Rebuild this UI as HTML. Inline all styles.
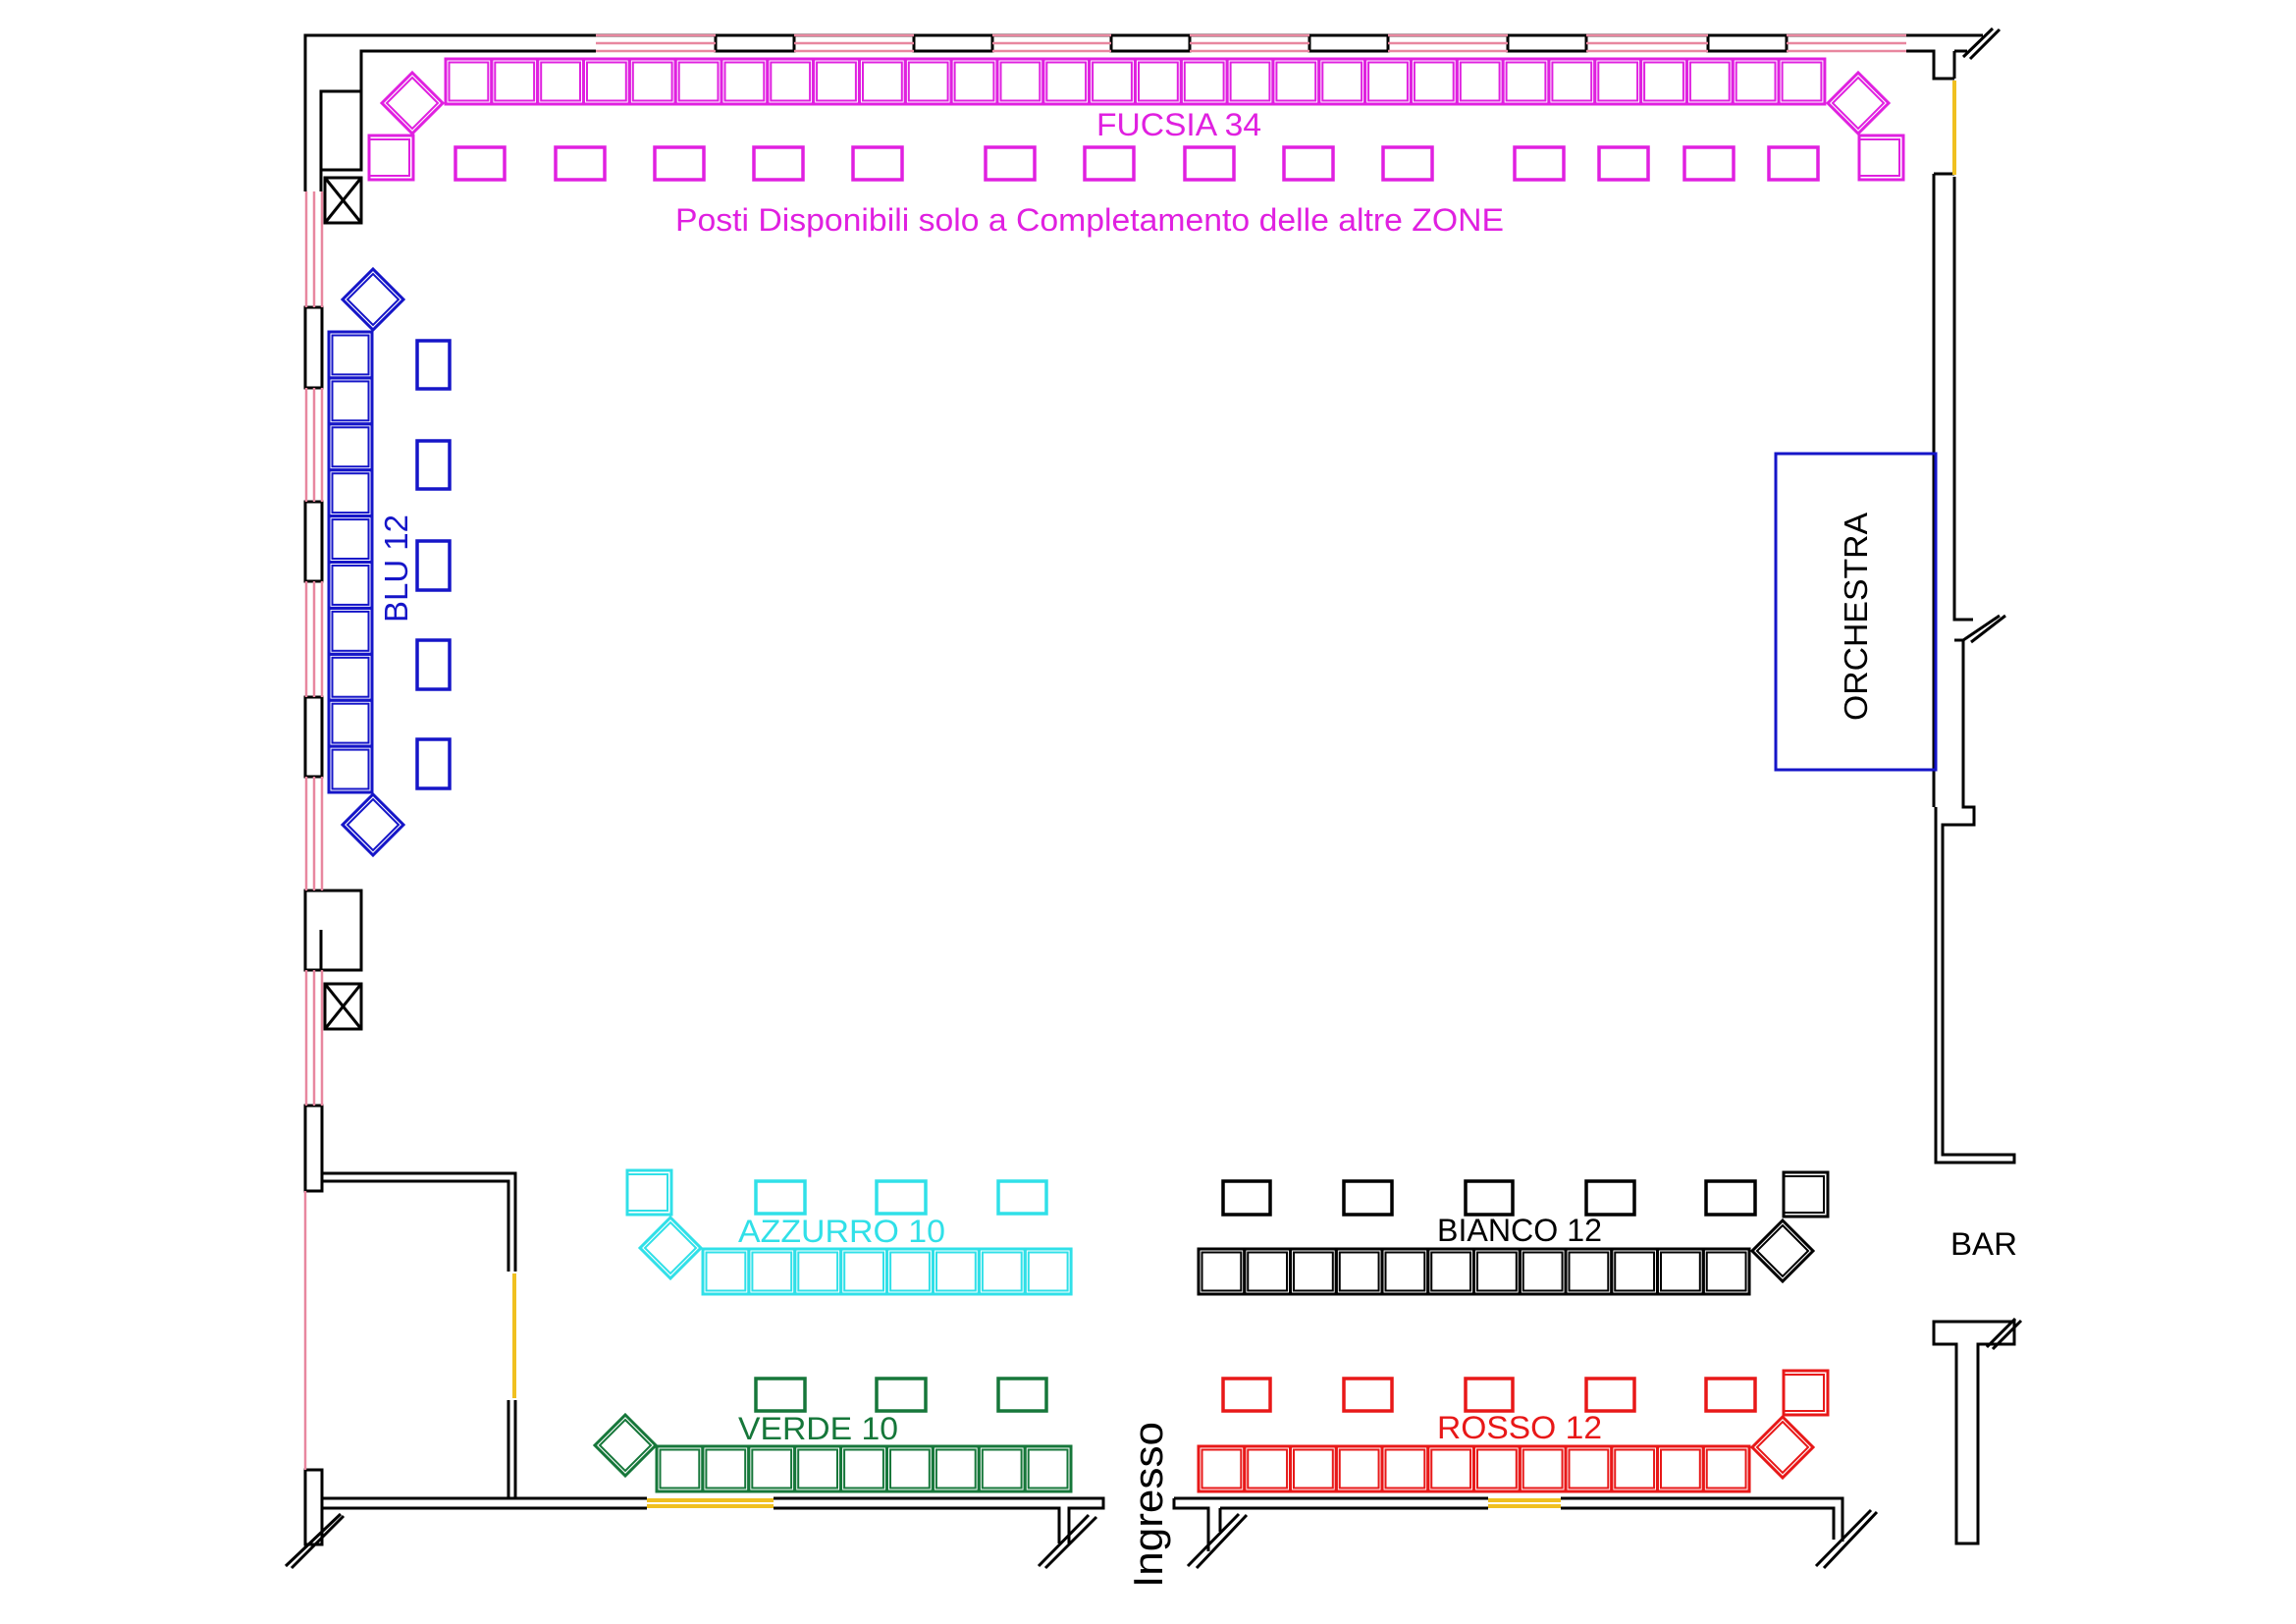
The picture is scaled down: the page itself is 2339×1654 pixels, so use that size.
<!DOCTYPE html>
<html><head><meta charset="utf-8"><style>
html,body{margin:0;padding:0;background:#fff;}
svg{display:block;}
text{font-family:"Liberation Sans",Arial,sans-serif;}
</style></head><body>
<svg width="2339" height="1654" viewBox="0 0 2339 1654" xmlns="http://www.w3.org/2000/svg">
<defs>
<g id="ch"><rect x="0" y="0" width="46.8" height="46" fill="none" stroke="currentColor" stroke-width="3"/><rect x="3.5" y="3.5" width="39.8" height="39" fill="none" stroke="currentColor" stroke-width="2"/></g>
<g id="chb"><rect x="0" y="0" width="44" height="46.9" fill="none" stroke="currentColor" stroke-width="3"/><rect x="3.5" y="3.5" width="37" height="39.9" fill="none" stroke="currentColor" stroke-width="2"/></g>
<g id="dm"><polygon points="0,-31 31,0 0,31 -31,0" fill="none" stroke="currentColor" stroke-width="3"/><polygon points="0,-26 26,0 0,26 -26,0" fill="none" stroke="currentColor" stroke-width="2"/></g>
<g id="cs"><rect x="0" y="0" width="45" height="45" fill="none" stroke="currentColor" stroke-width="3"/><rect x="0" y="4" width="41" height="37" fill="none" stroke="currentColor" stroke-width="2"/></g>
</defs>

<g fill="none" stroke="#000" stroke-width="3">
<path d="M311,195 V36 H2020"/>
<path d="M327,195 V173 M368,93 V52 H607"/>
<rect x="327" y="93" width="41" height="80"/>
<rect x="331" y="181" width="37" height="46"/>
<path d="M331,181 L368,227 M368,181 L331,227"/>
<rect x="729" y="36" width="80" height="16"/>
<rect x="931" y="36" width="80" height="16"/>
<rect x="1132" y="36" width="80" height="16"/>
<rect x="1334" y="36" width="80" height="16"/>
<rect x="1536" y="36" width="80" height="16"/>
<rect x="1740" y="36" width="80" height="16"/>
<path d="M1942,52 H1970 V80 H1991 M1991,52 H2004"/>
<path d="M2000,58 L2030,29 M2007,60 L2037,30"/>
<path d="M1970,177 H1991 M1970,177 V822 M1991,52 V80 M1991,180 V631 H2010 M1991,652 H2000 V822 H2011 V840 H1979 V1176 H2052 V1184 H1972 V822"/>
<path d="M2000,652 L2037,627 M2008,654 L2043,627"/>
<rect x="311" y="313" width="17" height="82"/>
<rect x="311" y="511" width="17" height="81"/>
<rect x="311" y="710" width="17" height="81"/>
<rect x="311" y="907" width="57" height="81"/>
<path d="M327,947 V988"/>
<rect x="331" y="1002" width="37" height="46"/>
<path d="M331,1002 L368,1048 M368,1002 L331,1048"/>
<rect x="311" y="1126" width="17" height="87"/>
<path d="M328,1195 H525 V1295 M328,1203 H518 V1295 M518,1426 V1526 M525,1426 V1526"/>
<rect x="311" y="1497" width="17" height="76"/>
<path d="M291,1595 L347,1542 M297,1597 L350,1544"/>
<path d="M328,1526 H659 M788,1526 H1124 V1536 H1089 V1572 M328,1536 H659 M788,1536 H1079 V1572"/>
<path d="M1058,1595 L1109,1543 M1065,1597 L1117,1545"/>
<path d="M1196,1526 H1516 M1590,1526 H1877 V1570 M1196,1526 V1536 H1231 V1580 M1243,1536 V1560 M1243,1536 H1516 M1590,1536 H1868 V1568"/>
<path d="M1210,1595 L1262,1542 M1219,1597 L1270,1543"/>
<path d="M1850,1595 L1906,1538 M1858,1597 L1912,1540"/>
<path d="M1970,1346 H2052 V1369 H2015 V1572 H1993 V1369 H1970 Z"/>
<path d="M2024,1372 L2053,1343 M2030,1374 L2059,1345"/>
</g>

<g stroke="#e8879f" stroke-width="2.5" fill="none">
<path d="M607,36 H729 M607,44 H729 M607,52 H729"/>
<path d="M809,36 H931 M809,44 H931 M809,52 H931"/>
<path d="M1011,36 H1132 M1011,44 H1132 M1011,52 H1132"/>
<path d="M1212,36 H1334 M1212,44 H1334 M1212,52 H1334"/>
<path d="M1414,36 H1536 M1414,44 H1536 M1414,52 H1536"/>
<path d="M1616,36 H1740 M1616,44 H1740 M1616,52 H1740"/>
<path d="M1820,36 H1942 M1820,44 H1942 M1820,52 H1942"/>
<path d="M312,195 V313 M320,195 V313 M328,195 V313"/>
<path d="M312,395 V511 M320,395 V511 M328,395 V511"/>
<path d="M312,592 V710 M320,592 V710 M328,592 V710"/>
<path d="M312,791 V907 M320,791 V907 M328,791 V907"/>
<path d="M312,988 V1126 M320,988 V1126 M328,988 V1126"/>
<path d="M311,1213 V1497"/>
</g>
<g stroke="#f0c020" stroke-width="4" fill="none">
<path d="M1991,82 V178"/>
<path d="M524,1297 V1424"/>
<path d="M659,1528 H788 M659,1534 H788"/>
<path d="M1516,1528 H1590 M1516,1534 H1590"/>
</g>

<g color="#e020e0" fill="none" stroke="#e020e0">
<use href="#ch" x="454" y="60"/><use href="#ch" x="500.8" y="60"/><use href="#ch" x="547.7" y="60"/><use href="#ch" x="594.5" y="60"/><use href="#ch" x="641.3" y="60"/><use href="#ch" x="688.2" y="60"/><use href="#ch" x="735" y="60"/><use href="#ch" x="781.8" y="60"/><use href="#ch" x="828.6" y="60"/><use href="#ch" x="875.5" y="60"/><use href="#ch" x="922.3" y="60"/><use href="#ch" x="969.1" y="60"/><use href="#ch" x="1016" y="60"/><use href="#ch" x="1062.8" y="60"/><use href="#ch" x="1109.6" y="60"/><use href="#ch" x="1156.5" y="60"/><use href="#ch" x="1203.3" y="60"/><use href="#ch" x="1250.1" y="60"/><use href="#ch" x="1296.9" y="60"/><use href="#ch" x="1343.8" y="60"/><use href="#ch" x="1390.6" y="60"/><use href="#ch" x="1437.4" y="60"/><use href="#ch" x="1484.3" y="60"/><use href="#ch" x="1531.1" y="60"/><use href="#ch" x="1577.9" y="60"/><use href="#ch" x="1624.8" y="60"/><use href="#ch" x="1671.6" y="60"/><use href="#ch" x="1718.4" y="60"/><use href="#ch" x="1765.2" y="60"/><use href="#ch" x="1812.1" y="60"/>
<use href="#dm" x="420" y="105"/><use href="#dm" x="1893" y="105"/>
<use href="#cs" x="376" y="138"/><use href="#cs" x="1894" y="138"/>
<g stroke-width="3.5">
<rect x="464" y="150" width="50" height="33"/><rect x="566" y="150" width="50" height="33"/><rect x="667" y="150" width="50" height="33"/><rect x="768" y="150" width="50" height="33"/><rect x="869" y="150" width="50" height="33"/><rect x="1004" y="150" width="50" height="33"/><rect x="1105" y="150" width="50" height="33"/><rect x="1207" y="150" width="50" height="33"/><rect x="1308" y="150" width="50" height="33"/><rect x="1409" y="150" width="50" height="33"/><rect x="1543" y="150" width="50" height="33"/><rect x="1629" y="150" width="50" height="33"/><rect x="1716" y="150" width="50" height="33"/><rect x="1802" y="150" width="50" height="33"/>
</g>
</g>
<text x="1117" y="138" font-size="32" fill="#e020e0" textLength="168" lengthAdjust="spacingAndGlyphs">FUCSIA 34</text>
<text x="688" y="235" font-size="32" fill="#e020e0" textLength="844" lengthAdjust="spacingAndGlyphs">Posti Disponibili solo a Completamento delle altre ZONE</text>

<g color="#1515c8" fill="none" stroke="#1515c8">
<use href="#chb" x="335" y="338"/><use href="#chb" x="335" y="384.9"/><use href="#chb" x="335" y="431.8"/><use href="#chb" x="335" y="478.7"/><use href="#chb" x="335" y="525.6"/><use href="#chb" x="335" y="572.5"/><use href="#chb" x="335" y="619.4"/><use href="#chb" x="335" y="666.3"/><use href="#chb" x="335" y="713.2"/><use href="#chb" x="335" y="760.1"/>
<use href="#dm" x="380" y="305"/><use href="#dm" x="380" y="840"/>
<g stroke-width="3.5">
<rect x="425" y="347" width="33" height="49"/><rect x="425" y="449" width="33" height="49"/><rect x="425" y="551" width="33" height="50"/><rect x="425" y="652" width="33" height="50"/><rect x="425" y="753" width="33" height="50"/>
</g>
<rect x="1809" y="462" width="163" height="322" stroke-width="3"/>
</g>
<text transform="translate(415,634) rotate(-90)" font-size="33" fill="#1515c8" textLength="110" lengthAdjust="spacingAndGlyphs">BLU 12</text>
<text transform="translate(1902,734) rotate(-90)" font-size="33" fill="#000" textLength="212" lengthAdjust="spacingAndGlyphs">ORCHESTRA</text>

<g color="#30e0e8" fill="none" stroke="#30e0e8">
<use href="#ch" x="716" y="1272"/><use href="#ch" x="762.9" y="1272"/><use href="#ch" x="809.8" y="1272"/><use href="#ch" x="856.7" y="1272"/><use href="#ch" x="903.6" y="1272"/><use href="#ch" x="950.5" y="1272"/><use href="#ch" x="997.4" y="1272"/><use href="#ch" x="1044.3" y="1272"/>
<use href="#dm" x="683" y="1271"/>
<use href="#cs" x="639" y="1192"/>
<g stroke-width="3.5"><rect x="770" y="1203" width="50" height="33"/><rect x="893" y="1203" width="50" height="33"/><rect x="1017" y="1203" width="49" height="33"/></g>
</g>
<text x="752" y="1265" font-size="32" fill="#30e0e8" textLength="211" lengthAdjust="spacingAndGlyphs">AZZURRO 10</text>

<g color="#16773a" fill="none" stroke="#16773a">
<use href="#ch" x="669" y="1473"/><use href="#ch" x="715.9" y="1473"/><use href="#ch" x="762.8" y="1473"/><use href="#ch" x="809.7" y="1473"/><use href="#ch" x="856.6" y="1473"/><use href="#ch" x="903.5" y="1473"/><use href="#ch" x="950.4" y="1473"/><use href="#ch" x="997.3" y="1473"/><use href="#ch" x="1044.2" y="1473"/>
<use href="#dm" x="637" y="1472"/>
<g stroke-width="3.5"><rect x="770" y="1404" width="50" height="33"/><rect x="893" y="1404" width="50" height="33"/><rect x="1017" y="1404" width="49" height="33"/></g>
</g>
<text x="752" y="1466" font-size="32" fill="#16773a" textLength="163" lengthAdjust="spacingAndGlyphs">VERDE 10</text>

<g color="#000" fill="none" stroke="#000">
<use href="#ch" x="1221" y="1272"/><use href="#ch" x="1267.75" y="1272"/><use href="#ch" x="1314.5" y="1272"/><use href="#ch" x="1361.25" y="1272"/><use href="#ch" x="1408" y="1272"/><use href="#ch" x="1454.75" y="1272"/><use href="#ch" x="1501.5" y="1272"/><use href="#ch" x="1548.25" y="1272"/><use href="#ch" x="1595" y="1272"/><use href="#ch" x="1641.75" y="1272"/><use href="#ch" x="1688.5" y="1272"/><use href="#ch" x="1735.25" y="1272"/>
<use href="#dm" x="1816" y="1274"/>
<use href="#cs" x="1817" y="1194"/>
<g stroke-width="3.5"><rect x="1246" y="1203" width="48" height="34"/><rect x="1369" y="1203" width="49" height="34"/><rect x="1493" y="1203" width="48" height="34"/><rect x="1616" y="1203" width="49" height="34"/><rect x="1738" y="1203" width="50" height="34"/></g>
</g>
<text x="1464" y="1264" font-size="32" fill="#000" textLength="168" lengthAdjust="spacingAndGlyphs">BIANCO 12</text>

<g color="#e81818" fill="none" stroke="#e81818">
<use href="#ch" x="1221" y="1473"/><use href="#ch" x="1267.75" y="1473"/><use href="#ch" x="1314.5" y="1473"/><use href="#ch" x="1361.25" y="1473"/><use href="#ch" x="1408" y="1473"/><use href="#ch" x="1454.75" y="1473"/><use href="#ch" x="1501.5" y="1473"/><use href="#ch" x="1548.25" y="1473"/><use href="#ch" x="1595" y="1473"/><use href="#ch" x="1641.75" y="1473"/><use href="#ch" x="1688.5" y="1473"/><use href="#ch" x="1735.25" y="1473"/>
<use href="#dm" x="1816" y="1474"/>
<use href="#cs" x="1817" y="1396"/>
<g stroke-width="3.5"><rect x="1246" y="1404" width="48" height="33"/><rect x="1369" y="1404" width="49" height="33"/><rect x="1493" y="1404" width="48" height="33"/><rect x="1616" y="1404" width="49" height="33"/><rect x="1738" y="1404" width="50" height="33"/></g>
</g>
<text x="1464" y="1465" font-size="32" fill="#e81818" textLength="168" lengthAdjust="spacingAndGlyphs">ROSSO 12</text>

<text x="1987" y="1278" font-size="32" fill="#000" textLength="68" lengthAdjust="spacingAndGlyphs">BAR</text>
<text transform="translate(1184,1617) rotate(-90)" font-size="42" fill="#000" textLength="169" lengthAdjust="spacingAndGlyphs">Ingresso</text>
</svg>
</body></html>
